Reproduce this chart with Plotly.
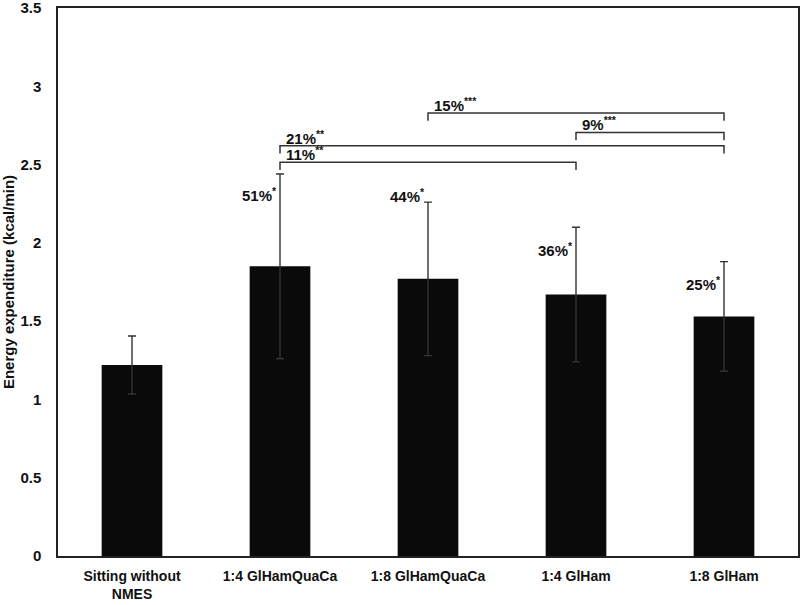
import plotly.graph_objects as go

categories = ["Sitting without<br>NMES", "1:4 GlHamQuaCa", "1:8 GlHamQuaCa", "1:4 GlHam", "1:8 GlHam"]
means = [1.22, 1.85, 1.77, 1.67, 1.53]
sd = [0.185, 0.59, 0.49, 0.43, 0.35]
y_ticks = [0, 0.5, 1, 1.5, 2, 2.5, 3, 3.5]
y_ticktext = ["0", "0.5", "1", "1.5", "2", "2.5", "3", "3.5"]

pct_labels = ["", "51%<sup>*</sup>", "44%<sup>*</sup>", "36%<sup>*</sup>", "25%<sup>*</sup>"]
pct_y = [0, 2.31, 2.30, 1.96, 1.74]

# comparisons: (from bar, to bar, level, label)
cmp_from = [2, 3, 1, 1]
cmp_to = [4, 4, 4, 3]
cmp_level = [2.83, 2.705, 2.62, 2.515]
cmp_labels = ["15%<sup>***</sup>", "9%<sup>***</sup>", "21%<sup>**</sup>", "11%<sup>**</sup>"]

x = list(range(len(categories)))
FONT = "Liberation Sans, Arial, sans-serif"

fig = go.Figure()
fig.add_trace(go.Bar(
    x=x, y=means, marker=dict(color="#0a0a0a", line=dict(width=0)),
    error_y=dict(type="data", array=sd, visible=True, color="#333333", thickness=1.4, width=4),
    width=0.41,
))

shapes = []
annotations = []
tick = 0.05
for a, b, lvl, lab in zip(cmp_from, cmp_to, cmp_level, cmp_labels):
    shapes.append(dict(type="path", xref="x", yref="y",
                       path=f"M {a},{lvl - tick} L {a},{lvl} L {b},{lvl} L {b},{lvl - tick}",
                       line=dict(color="#333333", width=1.5)))
    annotations.append(dict(x=a, y=lvl, xref="x", yref="y", text=f"<b>{lab}</b>",
                            showarrow=False, xanchor="left", yanchor="bottom", xshift=4, yshift=-3,
                            font=dict(family=FONT, size=15, color="#111111")))

for i, (lab, yy) in enumerate(zip(pct_labels, pct_y)):
    if lab:
        annotations.append(dict(x=i, y=yy, xref="x", yref="y", text=f"<b>{lab}</b>",
                                showarrow=False, xanchor="right", yanchor="middle", xshift=-1,
                                font=dict(family=FONT, size=15, color="#111111")))

fig.update_layout(
    width=800, height=605,
    margin=dict(l=58, r=2, t=8, b=49),
    plot_bgcolor="white", paper_bgcolor="white",
    showlegend=False,
    shapes=shapes, annotations=annotations,
    font=dict(family=FONT, color="#111111"),
)
fig.update_xaxes(
    tickmode="array", tickvals=x, ticktext=[f"<b>{c}</b>" for c in categories],
    range=[-0.5, 4.5], showline=True, linecolor="#222222", linewidth=1.5, mirror=True,
    tickfont=dict(family=FONT, size=14), ticks="", showgrid=False, automargin=False,
    ticklabelstandoff=6,
)
fig.update_yaxes(
    range=[0, 3.5], tickmode="array", tickvals=y_ticks, ticktext=[f"<b>{t}</b>" for t in y_ticktext],
    showline=True, linecolor="#222222", linewidth=1.5, mirror=True,
    tickfont=dict(family=FONT, size=15), ticks="", showgrid=False, zeroline=False,
    title=dict(text="<b>Energy expenditure (kcal/min)</b>", font=dict(family=FONT, size=15), standoff=10),
    ticklabelstandoff=12, automargin=False, ticklabeloverflow="allow",
)

fig.write_html("out.html", config={"displayModeBar": False},
               post_script="document.body.style.margin='0';")
